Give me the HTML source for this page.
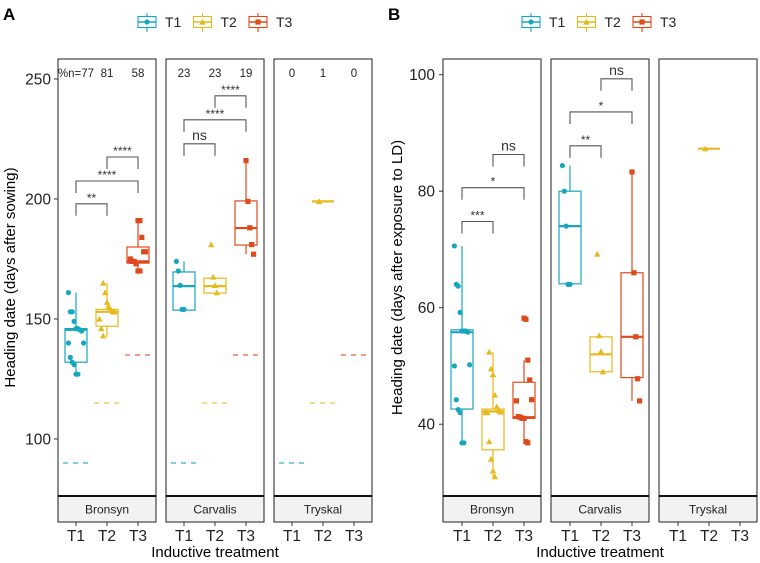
<!DOCTYPE html>
<html><head><meta charset="utf-8">
<style>
body{margin:0;background:#fff;}
svg{display:block;font-family:"Liberation Sans",Arial,sans-serif;}
</style></head>
<body>
<svg id="chart" width="760" height="563" viewBox="0 0 760 563" xmlns="http://www.w3.org/2000/svg"></svg>
<script>
// ---------- DATA ----------
const panels = ['Bronsyn','Carvalis','Tryskal'];
const treatments = ['T1','T2','T3'];
const colors = ['#17a6bd','#e7b91c','#e0491c'];

// Panel A (days after sowing)
const aTicks = [100,150,200,250];
const aThresholds = [90,115,135];
const aCounts = [['%n=77','81','58'],['23','23','19'],['0','1','0']];
const aPtsBronsyn = [[161,153,153,149,146,146,145.5,145,140,140,134,132,131,127,127],
                     [165,161,157,155,154,153,153,150,146,143],
                     [191,191,184,178,178,175,174,174,173,170,170]];
const aPtsCarvalis = [[174,170,164,154,154],[181,167.5,164,161],[216,199,188,181,177]];
const aPtsTryskal = [[],[199],[]];
const aStatsBronsyn = [[127,132,145.5,146,161],[142.5,147,153,154,165],[169.6,173.3,174,180,191]];
const aStatsCarvalis = [[154,153.7,163.7,169.6,174],[161,160.8,163.7,167,167.5],[177,180.8,187.9,199.2,216]];
const aStatsTryskal = [null,[199,199,199,199,199],null];
// brackets: [panel, from, to, y-value, label]
const aBrackets = [[0,0,1,198,'**'],[0,0,2,207.5,'****'],[0,1,2,217.5,'****'],
                   [1,0,1,223,'ns'],[1,0,2,233,'****'],[1,1,2,243,'****']];

// Panel B (days after exposure to LD)
const bTicks = [40,60,80,100];
const bPtsBronsyn = [[70.6,64,63.7,59.2,56,56,56,55.8,50.2,50,44.2,42.5,42,36.8,36.8],
                     [52.4,49.5,48.5,45,43,42.3,42.1,42,42,37,34,32,31],
                     [58.2,58,51,47.6,44.2,44,41.3,41.2,41,41,37,36.8]];
const bPtsCarvalis = [[84.4,80,74,64,64],[69.2,55.2,52.5,49],[83.3,66,55,47.8,44]];
const bPtsTryskal = [[],[87.3],[]];
const bStatsBronsyn = [[36.8,42.6,55.8,56.2,70.6],[31,35.6,42.2,42.6,52.4],[36.8,41,41.2,47.2,51]];
const bStatsCarvalis = [[64,64.1,74,80,84.4],[49,49,52,55,55.2],[44,48,55,66,83.3]];
const bStatsTryskal = [null,[87.3,87.3,87.3,87.3,87.3],null];
const bBrackets = [[0,0,1,74.8,'***'],[0,0,2,80.6,'*'],[0,1,2,86.3,'ns'],
                   [1,0,1,87.8,'**'],[1,0,2,93.6,'*'],[1,1,2,99.3,'ns']];

// ---------- DRAW ----------
const svg = document.getElementById('chart');
const NS = 'http://www.w3.org/2000/svg';
function mk(tag, attrs, parent, text){
  const e = document.createElementNS(NS, tag);
  for (const k in attrs) e.setAttribute(k, attrs[k]);
  if (text !== undefined) e.textContent = text;
  (parent||svg).appendChild(e);
  return e;
}
function marker(t, x, y, parent){
  let e;
  if (t===0) e = mk('circle',{cx:x,cy:y,r:2.6,fill:colors[0]},parent);
  else if (t===1) e = mk('polygon',{points:`${x},${y-3.2} ${x-3.2},${y+2.6} ${x+3.2},${y+2.6}`,fill:colors[1]},parent);
  else e = mk('rect',{x:x-2.6,y:y-2.6,width:5.2,height:5.2,fill:colors[2]},parent);
  return e;
}

function drawPlot(cfg){
  const {prefix, panelX, offs, top, bottom, yScale, ticks, pts, stats, brackets, thresholds, counts, tickLabelX, title, titleX, legendX, letter, letterX} = cfg;
  const g = mk('g',{});
  
  
  const L = mk('text',{x:letterX,y:20,'font-size':17,'font-weight':'bold',fill:'#000'},g,letter);
  
  
  const lg = mk('g',{},g);
  
  
  for (let t=0;t<3;t++){
    const lx = legendX + t*55.5;
    const it = mk('g',{},lg);
    
    
    mk('line',{x1:lx+10,x2:lx+10,y1:13,y2:32,stroke:colors[t],'stroke-width':1.1},it);
    mk('rect',{x:lx+1,y:16.5,width:18,height:11,fill:'#fff',stroke:colors[t],'stroke-width':1.1},it);
    mk('line',{x1:lx+1,x2:lx+19,y1:22,y2:22,stroke:colors[t],'stroke-width':1.6},it);
    marker(t, lx+10, 22, it);
    mk('text',{x:lx+28,y:27,'font-size':14,fill:'#222'},it,treatments[t]);
  }
  const ya = mk('g',{},g);
  
  
  ticks.forEach(v=>{
    const y = yScale(v);
    mk('line',{x1:panelX[0]-4,x2:panelX[0],y1:y,y2:y,stroke:'#333','stroke-width':1},ya);
    mk('text',{x:tickLabelX,y:y+5.5,'text-anchor':'end','font-size':15.5,fill:'#222'},ya,String(v));
  });
  const yt = mk('text',{x:0,y:0,'text-anchor':'middle','font-size':15,fill:'#000',
    transform:`translate(${titleX},${(top+bottom)/2}) rotate(-90)`},g,title);
  
  
  const xt = mk('text',{x:(panelX[0]+panelX[2]+98)/2,y:557,'text-anchor':'middle','font-size':15,fill:'#000'},g,'Inductive treatment');
  
  

  for (let p=0;p<3;p++){
    const x0 = panelX[p];
    const pg = mk('g',{},g);
    
    
    mk('rect',{x:x0,y:top,width:98,height:bottom-top,fill:'#fff',stroke:'#333','stroke-width':1.1},pg);
    const st = mk('g',{},pg);
    
    
    mk('rect',{x:x0,y:bottom,width:98,height:26,fill:'#f2f2f2',stroke:'#333','stroke-width':1.1},st);
    mk('line',{x1:x0,x2:x0+98,y1:bottom,y2:bottom,stroke:'#111','stroke-width':2},st);
    mk('text',{x:x0+49,y:bottom+17.5,'text-anchor':'middle','font-size':12,fill:'#222'},st,panels[p]);
    for (let t=0;t<3;t++){
      const cx = x0+offs[t];
      mk('line',{x1:cx,x2:cx,y1:bottom+26,y2:bottom+30,stroke:'#333'},pg);
      const tl = mk('text',{x:cx,y:541,'text-anchor':'middle','font-size':15.5,fill:'#222'},pg,treatments[t]);
      
      
    }
    if (counts){
      for (let t=0;t<3;t++){
        const c = mk('text',{x:x0+offs[t],y:77,'text-anchor':'middle','font-size':11.5,fill:'#222'},pg,counts[p][t]);
        
        
      }
    }
    if (thresholds){
      for (let t=0;t<3;t++){
        const cx = x0+offs[t], y = yScale(thresholds[t]);
        const th = mk('line',{x1:cx-13,x2:cx+13,y1:y,y2:y,stroke:colors[t],'stroke-width':1.2,'stroke-dasharray':'5,5',opacity:0.85},pg);
        
        
      }
    }
    for (let t=0;t<3;t++){
      const s = stats[p][t];
      const cx = x0+offs[t];
      const bg = mk('g',{},pg);
      
      
      if (s){
        const [lo,q1,md,q3,hi] = s;
        const c = colors[t];
        if (q3!==q1){
          mk('line',{x1:cx,x2:cx,y1:yScale(hi),y2:yScale(q3),stroke:c,'stroke-width':1.2},bg);
          mk('line',{x1:cx,x2:cx,y1:yScale(q1),y2:yScale(lo),stroke:c,'stroke-width':1.2},bg);
          mk('rect',{x:cx-11,y:yScale(q3),width:22,height:yScale(q1)-yScale(q3),fill:'#fff',stroke:c,'stroke-width':1.2},bg);
        }
        mk('line',{x1:cx-11,x2:cx+11,y1:yScale(md),y2:yScale(md),stroke:c,'stroke-width':2.2},bg);
      }
      pts[p][t].forEach((v,i)=>{
        const jx = (((i*37+t*11)%9)-4)*1.9;
        const m = marker(t, cx+jx, yScale(v), bg);
        
        
      });
    }
  }
  brackets.forEach(b=>{
    const [p,f,to,v,lab] = b;
    const xa = panelX[p]+offs[f], xb = panelX[p]+offs[to], y = yScale(v);
    const bk = mk('g',{},g);
    
    
    mk('path',{d:`M${xa},${y+12}V${y}H${xb}V${y+12}`,fill:'none',stroke:'#555','stroke-width':1.1},bk);
    const ns = lab==='ns';
    mk('text',{x:(xa+xb)/2,y:ns?y-4:y-2,'text-anchor':'middle','font-size':ns?14:12,fill:'#333'},bk,lab);
  });
}

drawPlot({prefix:'a', panelX:[58,166,274], offs:[18,49,80], top:59, bottom:496,
  yScale:v=>79+(250-v)*2.4, ticks:aTicks,
  pts:[aPtsBronsyn,aPtsCarvalis,aPtsTryskal], stats:[aStatsBronsyn,aStatsCarvalis,aStatsTryskal],
  brackets:aBrackets, thresholds:aThresholds, counts:aCounts, tickLabelX:51,
  title:'Heading date (days after sowing)', titleX:15, legendX:137, letter:'A', letterX:3});

drawPlot({prefix:'b', panelX:[443,551,659], offs:[19,50,81], top:59, bottom:496,
  yScale:v=>74.7+(100-v)*5.825, ticks:bTicks,
  pts:[bPtsBronsyn,bPtsCarvalis,bPtsTryskal], stats:[bStatsBronsyn,bStatsCarvalis,bStatsTryskal],
  brackets:bBrackets, thresholds:null, counts:null, tickLabelX:435,
  title:'Heading date (days after exposure to LD)', titleX:402, legendX:521, letter:'B', letterX:388});
</script>
</body></html>
